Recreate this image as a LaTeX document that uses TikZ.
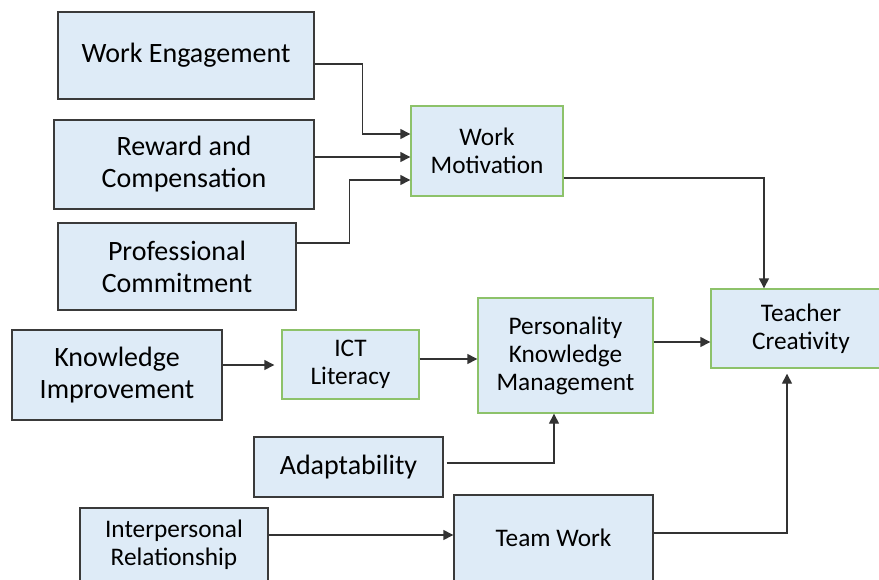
\documentclass[tikz,border=0pt]{standalone}
\usepackage{fontspec}
\setmainfont{Carlito}
\usetikzlibrary{arrows.meta}
\definecolor{boxfill}{HTML}{DEEBF7}
\definecolor{boxline}{HTML}{3A3A3A}
\definecolor{greenline}{HTML}{8DC26A}
\definecolor{arrline}{HTML}{333333}

\begin{document}
\begin{tikzpicture}[x=1pt,y=-1pt,
  every node/.style={align=center,inner sep=0pt,fill=boxfill,line width=1.4pt},
  bigbox/.style={draw=boxline,font=\fontsize{28}{32}\selectfont},
  smallbox/.style={draw=boxline,font=\fontsize{25.3}{28}\selectfont},
  greenbox/.style={draw=greenline,font=\fontsize{25.3}{28}\selectfont},
  arr/.style={draw=arrline,line width=1.4pt,-{Triangle[length=10pt,width=10pt]}},
  ]
  \useasboundingbox (0,0) rectangle (879,579);
  \clip (0,0) rectangle (879,579);
  % left column
  \node[bigbox,minimum width=256pt,minimum height=87pt] (we) at (186,55.5) {Work Engagement};
  \node[bigbox,minimum width=260pt,minimum height=89pt] (rc) at (184,164.5) {Reward and\\Compensation};
  \node[bigbox,minimum width=238pt,minimum height=87pt] (pc) at (177,266.5) {Professional\\Commitment};
  \node[bigbox,minimum width=210pt,minimum height=90pt] (ki) at (117,375) {Knowledge\\Improvement};
  \node[bigbox,minimum width=189pt,minimum height=60pt] (ad) at (348.5,467) {Adaptability};
  \node[smallbox,minimum width=188pt,minimum height=74pt] (ir) at (174,545) {Interpersonal\\Relationship};
  % middle and right
  \node[greenbox,minimum width=152pt,minimum height=90pt] (wm) at (487,151) {Work\\Motivation};
  \node[greenbox,minimum width=137pt,minimum height=69pt] (ict) at (350.5,364.5) {ICT\\Literacy};
  \node[greenbox,minimum width=175pt,minimum height=115pt] (pkm) at (565.5,355.5) {Personality\\Knowledge\\Management};
  \node[greenbox,minimum width=180pt,minimum height=79pt] (tc) at (801,328.5) {Teacher\\Creativity};
  \node[smallbox,minimum width=199pt,minimum height=86pt] (tw) at (553.5,538) {Team Work};
  % connectors
  \draw[arr] ([yshift=-8.5pt]we.east) -- ++(48,0) |- ([yshift=17pt]wm.west);
  \draw[arr] ([yshift=7.5pt]rc.east) -- ([yshift=7.5pt]rc.east -| wm.west);
  \draw[arr] ([yshift=23.5pt]pc.east) -- ++(53,0) |- ([yshift=-29pt]wm.west);
  \draw[arr] ([yshift=-27pt]wm.east) -| ([xshift=-37pt]tc.north);
  \draw[arr] ([yshift=13.5pt]pkm.east) -- ([yshift=13.5pt]pkm.east -| tc.west);
  \draw[arr,shorten >=7pt] ([yshift=10pt]ki.east) -- ([yshift=10pt]ki.east -| ict.west);
  \draw[arr] ([yshift=5.5pt]ict.east) -- ([yshift=5.5pt]ict.east -| pkm.west);
  \draw[arr,shorten <=3pt] ([yshift=4pt]ad.east) -| ([xshift=-11.5pt]pkm.south);
  \draw[arr] ([yshift=10pt]ir.east) -- ([yshift=10pt]ir.east -| tw.west);
  \draw[arr,shorten >=5pt] ([yshift=5pt]tw.east) -| ([xshift=-14pt]tc.south);
\end{tikzpicture}
\end{document}
